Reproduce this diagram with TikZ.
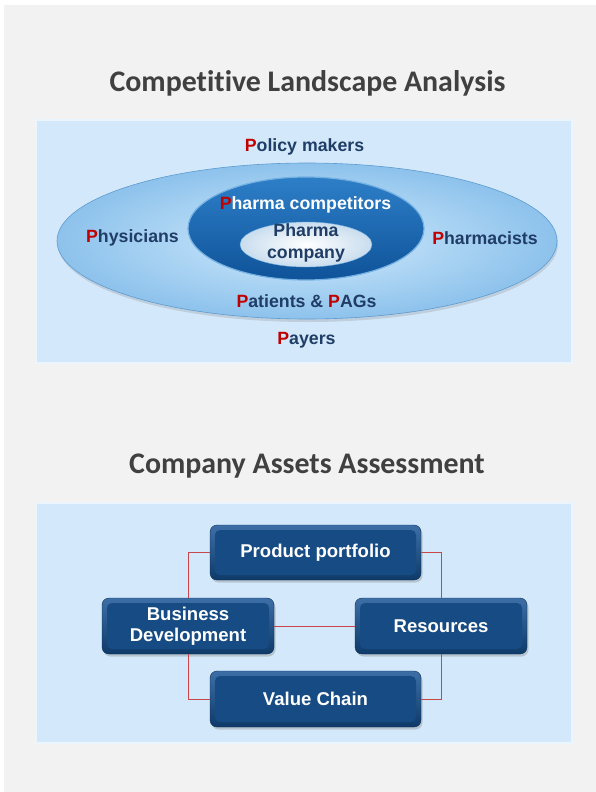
\documentclass[tikz,border=0pt]{standalone}
\usepackage{fontspec}
\setmainfont{Liberation Sans}
\newfontfamily\titlefont[Ligatures={NoCommon}]{Carlito}
\usetikzlibrary{shapes.geometric,shadows}
\usepackage{xcolor}

\definecolor{pagegrey}{HTML}{F2F2F2}
\definecolor{panelblue}{HTML}{D3E9FB}
\definecolor{titlegrey}{HTML}{404040}
\definecolor{pred}{HTML}{C00000}
\definecolor{navytext}{HTML}{1F3D66}
\definecolor{linkred}{HTML}{C8474A}
\definecolor{boxhi}{HTML}{3D6FA6}
\definecolor{boxlo}{HTML}{0E3A69}
\definecolor{boxface}{HTML}{174B83}
\definecolor{ringin}{HTML}{D2EBFC}
\definecolor{ringout}{HTML}{8DC2EC}
\definecolor{ringrim}{HTML}{5E9BD2}
\definecolor{rivalhi}{HTML}{2D7FC8}
\definecolor{rivallo}{HTML}{0F5399}
\definecolor{rivalrim}{HTML}{74B0E2}
\definecolor{coreout}{HTML}{C9DDEE}

\newcommand{\redP}{\textcolor{pred}{P}}

\tikzset{
  title/.style={font=\titlefont\bfseries\fontsize{30}{34}\selectfont, text=titlegrey},
  stake/.style={font=\bfseries\fontsize{17.8}{21}\selectfont, text=navytext, inner sep=0pt},
  panel/.style={fill=panelblue, draw=white!55!panelblue, line width=1.5bp},
  asset/.style={rounded corners=7bp, top color=boxhi, bottom color=boxlo,
    draw=boxlo!80!black, line width=0.4bp,
    drop shadow={shadow xshift=1.5bp, shadow yshift=-2.5bp, opacity=0.35},
    path picture={\fill[boxface, rounded corners=5bp]
      ([shift={(5bp,-5bp)}]path picture bounding box.north west) rectangle
      ([shift={(-5bp,5bp)}]path picture bounding box.south east);},
    text=white, font=\bfseries\fontsize{18.6}{21}\selectfont, align=center},
  link/.style={linkred, line width=1bp}
}

\begin{document}
\begin{tikzpicture}[x=1bp, y=-1bp]

  %--- page ---
  \fill[white] (0,0) rectangle (596,792);
  \fill[pagegrey] (4,5) rectangle (596,792);
  \useasboundingbox (0,0) rectangle (596,792);

  %--- Competitive landscape ---
  \node[title] (t1) at (307.5,83) {Competitive Landscape Analysis};
  \draw[panel] (36,120) rectangle (572,363);

  % three nested ellipses
  \node[ellipse, minimum width=500bp, minimum height=156bp, inner sep=0pt,
        inner color=ringin, outer color=ringout,
        draw=ringrim, line width=0.6bp,
        drop shadow={shadow xshift=1bp, shadow yshift=-3bp, opacity=0.25}]
        (ring) at (307,241) {};
  \node[ellipse, minimum width=236bp, minimum height=103bp, inner sep=0pt,
        top color=rivalhi, bottom color=rivallo,
        draw=rivalrim, line width=1.2bp]
        (rivals) at (306,228.5) {};
  \node[ellipse, minimum width=132bp, minimum height=45bp, inner sep=0pt,
        inner color=white, outer color=coreout,
        draw=rivalrim, line width=0.4bp]
        (core) at (306,244.5) {};

  % stakeholder labels
  \node[stake] (policy) at (304.5,147) {\redP olicy makers};
  \node[stake, text=white] (comp) at (305.5,205) {\redP harma competitors};
  \node[stake] (phys) at (132.5,238) {\redP hysicians};
  \node[stake] (pharm) at (485,238) {\redP harmacists};
  \node[stake, align=center] (pco) at (306,243) {Pharma\\[1bp]company};
  \node[stake] (pat) at (306.5,301) {\redP atients \& \redP AGs};
  \node[stake] (pay) at (306.5,340) {\redP ayers};

  %--- Company assets ---
  \node[title] (t2) at (307,466) {Company Assets Assessment};
  \draw[panel] (36,503) rectangle (572,743);

  \node[asset, minimum width=211bp, minimum height=55bp] (pp) at (315.5,552.5) {Product portfolio};
  \node[asset, minimum width=172bp, minimum height=56bp] (bd) at (188,626) {Business\\Development};
  \node[asset, minimum width=172bp, minimum height=56bp] (res) at (441,626) {Resources};
  \node[asset, minimum width=211bp, minimum height=56bp] (vc) at (315.5,699) {Value Chain};

  % red connectors
  \draw[link] (pp.west) -| (bd.north);
  \draw[link] (pp.east) -| (res.north);
  \draw[link] (bd.east) -- (res.west);
  \draw[link] (bd.south) |- (vc.west);
  \draw[link] (res.south) |- (vc.east);

\end{tikzpicture}
\end{document}
